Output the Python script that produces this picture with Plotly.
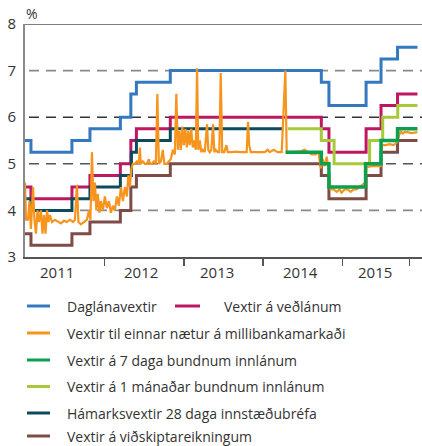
import plotly.graph_objects as go

# ---- data (time in decimal years) ----
policy_t = [2011.000, 2011.075, 2011.591, 2011.818, 2012.201, 2012.333, 2012.403,
            2012.830, 2014.732, 2014.828, 2015.296, 2015.484, 2015.692, 2015.943]
daglan = [5.5, 5.25, 5.5, 5.75, 6.0, 6.5, 6.75, 7.0, 6.75, 6.25, 6.75, 7.25, 7.5, 7.5]
vedlan = [4.5, 4.25, 4.5, 4.75, 5.0, 5.5, 5.75, 6.0, 5.75, 5.25, 5.75, 6.25, 6.5, 6.5]
vidskipta = [3.5, 3.25, 3.5, 3.75, 4.0, 4.5, 4.75, 5.0, 4.75, 4.25, 4.75, 5.25, 5.5, 5.5]

cd28_t = [2011.000, 2011.075, 2011.591, 2011.818, 2012.201, 2012.340, 2012.403, 2012.830, 2014.250]
cd28 = [4.25, 4.0, 4.25, 4.5, 4.75, 5.25, 5.5, 5.75, 5.75]

d7_t = [2014.283, 2014.732, 2014.828, 2015.289, 2015.484, 2015.692, 2015.943]
d7 = [5.25, 5.0, 4.5, 5.0, 5.5, 5.75, 5.75]

m1_t = [2014.310, 2014.732, 2014.893, 2015.340, 2015.505, 2015.695, 2015.943]
m1 = [5.75, 5.5, 5.0, 5.5, 6.0, 6.25, 6.25]

on_t = [2011.000, 2011.013, 2011.038, 2011.057, 2011.075, 2011.101, 2011.119, 2011.138,
        2011.157, 2011.176, 2011.201, 2011.220, 2011.239, 2011.258, 2011.277, 2011.296,
        2011.314, 2011.340, 2011.377, 2011.415, 2011.453, 2011.491, 2011.528, 2011.566,
        2011.604, 2011.629, 2011.654, 2011.673, 2011.704, 2011.742, 2011.780, 2011.805,
        2011.824, 2011.843, 2011.862, 2011.881, 2011.899, 2011.918, 2011.937, 2011.956,
        2011.981, 2012.006, 2012.031, 2012.057, 2012.082, 2012.107, 2012.132, 2012.157,
        2012.182, 2012.208, 2012.233, 2012.258, 2012.283, 2012.302, 2012.321, 2012.340,
        2012.358, 2012.384, 2012.409, 2012.434, 2012.447, 2012.459, 2012.484, 2012.509,
        2012.535, 2012.560, 2012.572, 2012.597, 2012.623, 2012.648, 2012.667, 2012.686,
        2012.711, 2012.736, 2012.755, 2012.786, 2012.811, 2012.836, 2012.862, 2012.887,
        2012.906, 2012.925, 2012.943, 2012.962, 2012.981, 2013.000, 2013.019, 2013.038,
        2013.057, 2013.075, 2013.094, 2013.113, 2013.132, 2013.151, 2013.167, 2013.182,
        2013.201, 2013.220, 2013.239, 2013.264, 2013.293, 2013.308, 2013.327, 2013.346,
        2013.369, 2013.384, 2013.403, 2013.428, 2013.447, 2013.465, 2013.484, 2013.509,
        2013.537, 2013.553, 2013.604, 2013.654, 2013.704, 2013.755, 2013.792, 2013.809,
        2013.824, 2013.843, 2013.893, 2013.956, 2014.019, 2014.057, 2014.082, 2014.132,
        2014.182, 2014.233, 2014.279, 2014.296, 2014.358, 2014.459, 2014.522, 2014.560,
        2014.610, 2014.660, 2014.698, 2014.723, 2014.748, 2014.774, 2014.799, 2014.824,
        2014.849, 2014.887, 2014.925, 2014.962, 2014.987, 2015.025, 2015.063, 2015.101,
        2015.138, 2015.176, 2015.214, 2015.252, 2015.289, 2015.302, 2015.365, 2015.440,
        2015.478, 2015.491, 2015.541, 2015.591, 2015.642, 2015.679, 2015.704, 2015.730,
        2015.755, 2015.780, 2015.818, 2015.868, 2015.943]
on_v = [4.6, 3.8, 3.8, 4.2, 3.6, 4.5, 3.8, 3.5,
        4.0, 3.75, 4.0, 3.5, 3.9, 3.5, 4.0, 3.75,
        3.9, 3.75, 3.8, 3.75, 3.72, 3.78, 3.75, 3.8,
        3.75, 3.8, 4.55, 3.75, 3.7, 3.75, 3.8, 4.0,
        3.8, 5.25, 4.2, 4.6, 4.0, 4.35, 3.95, 4.2,
        4.0, 4.3, 4.05, 4.2, 3.95, 4.1, 4.0, 4.3,
        4.1, 4.5, 4.2, 4.5, 4.3, 4.75, 4.5, 4.9,
        5.0, 5.0, 5.05, 5.0, 5.35, 5.0, 5.05, 5.0,
        5.0, 5.1, 5.0, 5.0, 5.05, 5.0, 6.5, 5.0,
        5.05, 5.3, 5.0, 5.0, 5.05, 5.1, 5.3, 5.2,
        6.5, 5.3, 5.7, 5.3, 5.8, 5.4, 5.75, 5.35,
        5.7, 5.4, 5.75, 5.35, 5.5, 5.3, 7.05, 5.3,
        5.5, 5.25, 5.3, 5.25, 5.85, 5.3, 5.25, 5.3,
        5.85, 5.25, 5.3, 5.25, 5.25, 6.95, 5.25, 5.25,
        5.4, 5.25, 5.25, 5.26, 5.25, 5.25, 5.25, 5.9,
        5.4, 5.25, 5.25, 5.26, 5.25, 5.3, 5.25, 5.3,
        5.25, 5.25, 7.0, 5.25, 5.25, 5.26, 5.3, 5.25,
        5.2, 5.2, 5.25, 4.9, 5.1, 4.95, 5.15, 4.9,
        4.45, 4.45, 4.4, 4.45, 4.38, 4.45, 4.45, 4.4,
        4.45, 4.45, 4.5, 4.55, 4.6, 4.93, 4.95, 4.95,
        4.95, 5.4, 5.4, 5.42, 5.4, 5.45, 5.6, 5.7,
        5.65, 5.68, 5.68, 5.66, 5.68]

year_labels = ["2011", "2012", "2013", "2014", "2015"]
year_label_pos = [2011.40, 2012.46, 2013.42, 2014.47, 2015.41]
x_ticks = [2012, 2013, 2014, 2015, 2015.843]
y_ticks = [3, 4, 5, 6, 7, 8]

series = [
    ("Daglánavextir", policy_t, daglan, "#3478C0", 3, "hv"),
    ("Vextir á veðlánum", policy_t, vedlan, "#BE1762", 3, "hv"),
    ("Hámarksvextir 28 daga innstæðubréfa", cd28_t, cd28, "#0E4A5F", 3, "hv"),
    ("Vextir á viðskiptareikningum", policy_t, vidskipta, "#7E4B47", 3, "hv"),
    ("Vextir til einnar nætur á millibankamarkaði", on_t, on_v, "#F7941D", 2.2, "linear"),
    ("Vextir á 1 mánaðar bundnum innlánum", m1_t, m1, "#A8C93A", 3, "hv"),
    ("Vextir á 7 daga bundnum innlánum", d7_t, d7, "#0AA04F", 3.5, "hv"),
]

fig = go.Figure()
for name, t, v, col, w, shape in series:
    fig.add_trace(go.Scatter(x=t, y=v, mode="lines", name=name, showlegend=False,
                             hoverinfo="skip",
                             line=dict(color=col, width=w, shape=shape)))

# figure fills the whole window (body margin removed by post_script)
W, H = 422, 446
ml, mr, mt, mb = 25, 0, 24, 189
pw, ph = W - ml - mr, H - mt - mb

def px2paper(xp, yp):
    """page pixel -> paper coords"""
    return (xp - ml) / pw, (H - mb - yp) / ph

FONT = "'Open Sans', Lato, sans-serif"

shapes = []
grid_cols = {7: "#8a8a8a", 6: "#333333", 5: "#555555", 4: "#8a8a8a"}
for gy, gc in grid_cols.items():
    shapes.append(dict(type="line", xref="paper", yref="y", x0=0.01, x1=1, y0=gy, y1=gy,
                       line=dict(color=gc, width=1.6, dash="10px,7px"), layer="below"))
shapes.append(dict(type="line", xref="paper", yref="y", x0=0, x1=1, y0=8, y1=8,
                   line=dict(color="#555555", width=1.6)))

annotations = []
for lab, pos in zip(year_labels, year_label_pos):
    annotations.append(dict(text=lab, x=pos, xref="x", y=px2paper(0, 271.5)[1], yref="paper",
                            showarrow=False, xanchor="center", yanchor="middle",
                            font=dict(size=15, color="#333333", family=FONT)))
px_, py_ = px2paper(32, 13.5)
annotations.append(dict(text="%", x=px_, y=py_, xref="paper", yref="paper", showarrow=False,
                        xanchor="center", yanchor="middle",
                        font=dict(size=14, color="#333333", family=FONT)))

# manual legend (page pixel positions)
legend_items = [
    ("Daglánavextir", "#3478C0", 27, 50, 65, 306),
    ("Vextir á veðlánum", "#BE1762", 175, 200, 222, 306),
    ("Vextir til einnar nætur á millibankamarkaði", "#F7941D", 27, 50, 65, 333),
    ("Vextir á 7 daga bundnum innlánum", "#0AA04F", 27, 50, 65, 360),
    ("Vextir á 1 mánaðar bundnum innlánum", "#A8C93A", 27, 50, 65, 386.5),
    ("Hámarksvextir 28 daga innstæðubréfa", "#0E4A5F", 27, 50, 65, 413),
    ("Vextir á viðskiptareikningum", "#7E4B47", 27, 50, 65, 436),
]
for lab, col, lx0, lx1, tx, ty in legend_items:
    a0, b0 = px2paper(lx0, ty)
    a1, _ = px2paper(lx1, ty)
    shapes.append(dict(type="line", xref="paper", yref="paper", x0=a0, x1=a1, y0=b0, y1=b0,
                       line=dict(color=col, width=3)))
    ta, tb = px2paper(tx, ty)
    annotations.append(dict(text=lab, x=ta, y=tb, xref="paper", yref="paper", showarrow=False,
                            xanchor="left", yanchor="middle",
                            font=dict(size=14, color="#333333", family=FONT)))

fig.update_layout(
    width=W, height=H,
    margin=dict(l=ml, r=mr, t=mt, b=mb, pad=0),
    paper_bgcolor="white", plot_bgcolor="white",
    font=dict(family=FONT, color="#333333"),
    hovermode=False,
    xaxis=dict(range=[2011, 2016], tickvals=x_ticks, showticklabels=False,
               ticks="outside", ticklen=7, tickwidth=1.5, tickcolor="#555555",
               showline=True, linecolor="#555555", linewidth=1.5, showgrid=False,
               zeroline=False),
    yaxis=dict(range=[3, 8], tickvals=y_ticks, ticks="", showgrid=False, zeroline=False,
               showline=True, linecolor="#8a8a8a", linewidth=2,
               tickfont=dict(size=15, color="#333333", family=FONT), ticklabelstandoff=4),
    shapes=shapes, annotations=annotations,
)

fig.write_html("out.html", config={"displayModeBar": False, "staticPlot": True},
               post_script="document.body.style.margin='0';document.body.style.padding='0';")
